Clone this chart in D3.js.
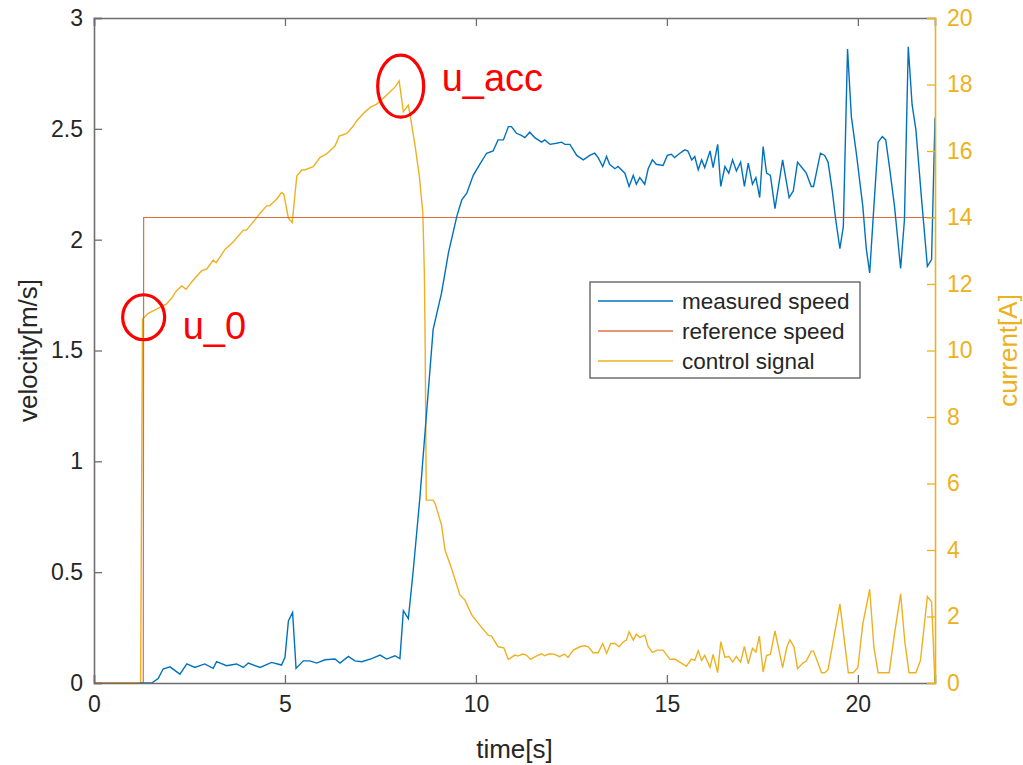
<!DOCTYPE html>
<html>
<head>
<meta charset="utf-8">
<script src="https://cdn.jsdelivr.net/npm/d3@7"></script>
<style>
  html, body { margin: 0; padding: 0; background: #fff; }
  svg { display: block; font-family: "Liberation Sans", Arial, sans-serif; }
</style>
</head>
<body>
<svg id="chart" width="1023" height="765"></svg>
<script>
// ---- data ----
const speedT = [1.20,1.51,1.68,1.81,1.99,2.25,2.43,2.64,2.90,3.12,3.21,3.47,3.73,3.91,4.04,4.35,4.65,4.91,5.00,5.09,5.20,5.29,5.48,5.65,5.83,6.05,6.31,6.44,6.66,6.83,7.01,7.27,7.49,7.66,7.88,8.01,8.10,8.23,8.36,8.53,8.88,9.10,9.28,9.50,9.63,9.76,9.93,10.10,10.28,10.45,10.58,10.72,10.85,10.93,11.06,11.19,11.28,11.41,11.54,11.72,11.80,11.94,12.11,12.24,12.33,12.46,12.64,12.81,12.98,13.11,13.20,13.32,13.42,13.50,13.64,13.72,13.90,14.01,14.12,14.20,14.29,14.42,14.51,14.62,14.72,14.90,15.01,15.12,15.20,15.34,15.47,15.55,15.65,15.73,15.82,15.91,15.99,16.13,16.21,16.33,16.41,16.52,16.62,16.72,16.82,16.93,17.03,17.13,17.24,17.33,17.43,17.52,17.61,17.71,17.83,18.03,18.20,18.31,18.42,18.56,18.65,18.78,18.84,19.02,19.13,19.22,19.33,19.42,19.53,19.62,19.73,19.83,19.96,20.13,20.22,20.31,20.42,20.53,20.64,20.73,20.83,20.96,21.12,21.22,21.32,21.42,21.52,21.66,21.82,21.93,22.02];
const speedV = [0,0,0.02,0.063,0.073,0.04,0.086,0.07,0.086,0.066,0.096,0.078,0.086,0.07,0.09,0.07,0.093,0.081,0.116,0.28,0.318,0.066,0.10,0.10,0.09,0.105,0.108,0.09,0.12,0.10,0.096,0.11,0.126,0.108,0.123,0.11,0.326,0.29,0.51,0.83,1.595,1.76,1.94,2.105,2.18,2.21,2.29,2.34,2.39,2.40,2.45,2.45,2.51,2.51,2.48,2.47,2.46,2.485,2.46,2.44,2.45,2.43,2.435,2.44,2.43,2.43,2.38,2.36,2.38,2.39,2.37,2.33,2.375,2.34,2.32,2.33,2.30,2.24,2.29,2.25,2.28,2.25,2.32,2.36,2.34,2.335,2.38,2.385,2.37,2.39,2.405,2.40,2.36,2.375,2.315,2.36,2.325,2.40,2.325,2.43,2.24,2.33,2.30,2.36,2.31,2.35,2.24,2.345,2.25,2.28,2.19,2.42,2.30,2.29,2.14,2.36,2.19,2.22,2.35,2.32,2.30,2.24,2.24,2.39,2.38,2.35,2.22,2.09,1.96,2.06,2.86,2.555,2.39,2.15,1.96,1.85,2.15,2.44,2.465,2.45,2.325,2.15,1.87,2.09,2.87,2.61,2.495,2.20,1.88,1.91,2.55];

const refT = [0, 1.29, 1.30, 22.02];
const refV = [0, 0, 2.1, 2.1];

const ctrlT = [0,1.22,1.27,1.42,1.68,1.90,2.03,2.16,2.30,2.41,2.60,2.82,2.95,3.12,3.20,3.43,3.65,3.91,3.99,4.21,4.35,4.52,4.60,4.78,4.91,4.97,5.09,5.19,5.31,5.44,5.52,5.74,5.92,6.09,6.31,6.42,6.62,6.79,6.88,7.05,7.23,7.40,7.57,7.75,7.88,7.99,8.10,8.23,8.27,8.41,8.52,8.61,8.65,8.67,8.70,8.88,8.93,9.10,9.19,9.36,9.58,9.71,9.89,10.10,10.32,10.41,10.58,10.73,10.85,11.02,11.10,11.22,11.32,11.43,11.58,11.72,11.80,11.93,12.06,12.19,12.32,12.41,12.55,12.72,12.85,12.94,13.07,13.20,13.32,13.42,13.53,13.64,13.75,13.86,13.94,14.01,14.12,14.20,14.29,14.42,14.51,14.62,14.75,14.90,15.08,15.21,15.34,15.51,15.64,15.73,15.82,15.91,15.99,16.13,16.21,16.33,16.41,16.52,16.62,16.72,16.82,16.93,17.03,17.13,17.24,17.33,17.42,17.52,17.61,17.71,17.83,18.03,18.14,18.22,18.33,18.42,18.56,18.65,18.78,18.84,19.05,19.13,19.22,19.53,19.75,19.88,20.00,20.13,20.31,20.42,20.53,20.82,20.96,21.12,21.23,21.34,21.52,21.64,21.82,21.93,22.02];
const ctrlA = [0,0,10.94,11.12,11.27,11.40,11.57,11.80,11.94,11.84,12.12,12.40,12.45,12.72,12.64,13.04,13.27,13.62,13.62,13.92,14.13,14.35,14.35,14.55,14.75,14.70,13.98,13.85,15.25,15.43,15.43,15.53,15.81,15.91,16.15,16.45,16.53,16.75,16.91,17.13,17.31,17.41,17.58,17.78,17.92,18.11,17.18,17.38,17.13,16.13,15.23,14.13,12.32,10.30,5.5,5.5,5.4,4.75,4.00,3.45,2.65,2.50,2.05,1.74,1.44,1.41,1.09,1.06,0.71,0.84,0.81,0.87,0.84,0.71,0.81,0.88,0.82,0.88,0.86,0.79,0.87,0.77,0.99,1.09,1.12,1.09,0.91,0.91,1.19,0.89,1.19,1.19,1.09,1.24,1.29,1.54,1.29,1.47,1.37,1.44,1.09,0.92,0.99,0.99,0.71,0.72,0.63,0.50,0.72,0.68,0.97,0.68,0.83,0.47,0.86,0.31,1.24,0.77,0.80,0.63,0.80,0.63,1.10,0.58,1.04,0.93,1.41,0.33,0.83,0.86,1.57,0.46,1.08,1.30,1.08,0.43,0.60,0.66,0.96,0.96,0.31,0.31,0.40,2.38,0.31,0.31,0.46,1.78,2.82,1.08,0.31,0.31,1.48,2.68,1.24,0.31,0.31,0.68,2.60,2.44,0];

const xTicks = [0, 5, 10, 15, 20];
const yLeftTicks = [0, 0.5, 1, 1.5, 2, 2.5, 3];
const yRightTicks = [0, 2, 4, 6, 8, 10, 12, 14, 16, 18, 20];
const seriesNames = ["measured speed", "reference speed", "control signal"];
const annotations = [
  {label: "u_0",   t: 1.30, a: 11.0,  rx: 21, ry: 22.5, dx: 39, dy: 22},
  {label: "u_acc", t: 8.03, a: 17.95, rx: 23, ry: 31,   dx: 41, dy: 5}
];

// ---- layout ----
const C_BLUE = "#0072BD", C_ORANGE = "#D95319", C_YELLOW = "#EDB120";
const TXT = "#262626", AX = "#6e6e6e";
const L = 94, R = 935, T = 18, B = 683;

const svg = d3.select("#chart");
const x = d3.scaleLinear().domain([0, 22.02]).range([L, R]);
const yL = d3.scaleLinear().domain([0, 3]).range([B, T]);
const yR = d3.scaleLinear().domain([0, 20]).range([B, T]);

// lines
const lineL = d3.line().x(d => x(d[0])).y(d => yL(d[1]));
const lineR = d3.line().x(d => x(d[0])).y(d => yR(d[1]));

const gPlot = svg.append("g");
gPlot.append("path").datum(ctrlT.map((t, i) => [t, ctrlA[i]]))
  .attr("d", lineR).attr("fill", "none").attr("stroke", C_YELLOW).attr("stroke-width", 1.4);
gPlot.append("path").datum(refT.map((t, i) => [t, refV[i]]))
  .attr("d", lineL).attr("fill", "none").attr("stroke", C_ORANGE).attr("stroke-width", 1.2).attr("stroke-opacity", 0.85);
gPlot.append("path").datum(speedT.map((t, i) => [t, speedV[i]]))
  .attr("d", lineL).attr("fill", "none").attr("stroke", C_BLUE).attr("stroke-width", 1.4);

// axes
const fontTick = "23px";
const xAxis = d3.axisBottom(x).tickValues(xTicks).tickSize(-8).tickPadding(13).tickFormat(d3.format("d"));
const gx = svg.append("g").attr("transform", `translate(0,${B})`).call(xAxis);
const xTop = d3.axisTop(x).tickValues(xTicks).tickSize(-8).tickFormat("");
const gxt = svg.append("g").attr("transform", `translate(0,${T})`).call(xTop);
const yAxisL = d3.axisLeft(yL).tickValues(yLeftTicks).tickSize(-8).tickPadding(11).tickFormat(d => d3.format("")(d));
const gyl = svg.append("g").attr("transform", `translate(${L},0)`).call(yAxisL);
const yAxisR = d3.axisRight(yR).tickValues(yRightTicks).tickSize(-8).tickPadding(12).tickFormat(d3.format("d"));
const gyr = svg.append("g").attr("transform", `translate(${R},0)`).call(yAxisR);

[gx, gxt, gyl].forEach(g => {
  g.selectAll(".domain").attr("stroke", AX).attr("stroke-width", 1.6);
  g.selectAll(".tick line").attr("stroke", AX).attr("stroke-width", 1.3);
  g.selectAll("text").attr("fill", TXT).style("font-size", fontTick).style("font-family", "Liberation Sans, Arial, sans-serif");
});
gyr.selectAll(".domain").attr("stroke", C_YELLOW).attr("stroke-width", 1.6);
gyr.selectAll(".tick line").attr("stroke", C_YELLOW).attr("stroke-width", 1.3);
gyr.selectAll("text").attr("fill", C_YELLOW).style("font-size", fontTick).style("font-family", "Liberation Sans, Arial, sans-serif");

// axis labels
svg.append("text").attr("x", (L + R) / 2).attr("y", 758).attr("text-anchor", "middle")
  .attr("fill", TXT).style("font-size", "26px").text("time[s]");
svg.append("text").attr("transform", `translate(37,${(T + B) / 2}) rotate(-90)`).attr("text-anchor", "middle")
  .attr("fill", TXT).style("font-size", "26px").text("velocity[m/s]");
svg.append("text").attr("transform", `translate(1017,${(T + B) / 2}) rotate(-90)`).attr("text-anchor", "middle")
  .attr("fill", C_YELLOW).style("font-size", "26px").text("current[A]");

// legend
const lg = svg.append("g").attr("transform", "translate(590,282)");
lg.append("rect").attr("width", 270).attr("height", 96).attr("fill", "#fff")
  .attr("stroke", "#5a5a5a").attr("stroke-width", 1.3);
const lgColors = [C_BLUE, C_ORANGE, C_YELLOW];
seriesNames.forEach((name, i) => {
  const yy = 19 + i * 30;
  lg.append("line").attr("x1", 8).attr("x2", 83).attr("y1", yy).attr("y2", yy)
    .attr("stroke", lgColors[i]).attr("stroke-width", 1.4).attr("stroke-opacity", i === 1 ? 0.8 : 1);
  lg.append("text").attr("x", 92).attr("y", yy).attr("dy", "0.35em")
    .attr("fill", TXT).style("font-size", "22.5px").text(name);
});

// annotations
annotations.forEach(a => {
  const cx = x(a.t), cy = yR(a.a);
  svg.append("ellipse").attr("cx", cx).attr("cy", cy).attr("rx", a.rx).attr("ry", a.ry)
    .attr("fill", "none").attr("stroke", "#ff0000").attr("stroke-width", 3.2);
  svg.append("text").attr("x", cx + a.dx).attr("y", cy + a.dy)
    .attr("fill", "#ff0000").style("font-size", "38px").text(a.label);
});
</script>
</body>
</html>
